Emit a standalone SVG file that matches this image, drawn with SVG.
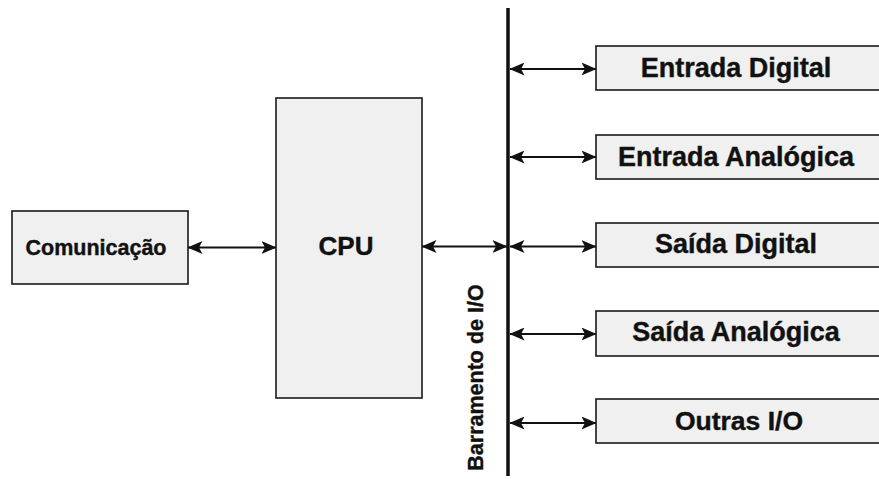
<svg xmlns="http://www.w3.org/2000/svg" width="879" height="479" viewBox="0 0 879 479">
  <defs>
    <style>
      .box { fill: #f0f0f0; stroke: #1a1a1a; stroke-width: 1.6; }
      .lbl { font-family: "Liberation Sans", Arial, sans-serif; font-weight: bold; fill: #111; text-anchor: middle; stroke: #111; stroke-width: 0.4; }
      .link { stroke: #111; stroke-width: 1.8; fill: none; marker-start: url(#head); marker-end: url(#head); }
      .bus { stroke: #111; stroke-width: 3.5; }
    </style>
    <marker id="head" viewBox="0 0 15 13" refX="14.5" refY="6.5" markerWidth="15" markerHeight="13" markerUnits="userSpaceOnUse" orient="auto-start-reverse">
      <path d="M0,0 L15,6.5 L0,13 L3.5,6.5 Z" fill="#111"/>
    </marker>
  </defs>
  <rect width="879" height="479" fill="#ffffff"/>

  <g id="comunicacao">
    <rect class="box" x="12" y="211" width="176" height="73"/>
    <text class="lbl" x="96" y="255" font-size="21.5">Comunicação</text>
  </g>

  <g id="cpu">
    <rect class="box" x="276" y="98" width="146" height="300"/>
    <text class="lbl" x="346" y="255" font-size="26">CPU</text>
  </g>

  <g id="barramento">
    <line class="bus" x1="508" y1="8" x2="508" y2="476"/>
    <text class="lbl" transform="translate(483,377.5) rotate(-90)" font-size="21.5">Barramento de I/O</text>
  </g>

  <g id="entrada-digital">
    <rect class="box" x="596" y="46" width="300" height="44"/>
    <text class="lbl" x="736" y="77" font-size="27">Entrada Digital</text>
  </g>

  <g id="entrada-analogica">
    <rect class="box" x="596" y="135" width="300" height="44"/>
    <text class="lbl" x="736" y="166" font-size="27">Entrada Analógica</text>
  </g>

  <g id="saida-digital">
    <rect class="box" x="596" y="223" width="300" height="44"/>
    <text class="lbl" x="736" y="253" font-size="27">Saída Digital</text>
  </g>

  <g id="saida-analogica">
    <rect class="box" x="596" y="311" width="300" height="45"/>
    <text class="lbl" x="736" y="341" font-size="27">Saída Analógica</text>
  </g>

  <g id="outras-io">
    <rect class="box" x="596" y="399" width="300" height="44"/>
    <text class="lbl" x="739" y="430" font-size="26.5">Outras I/O</text>
  </g>

  <g id="connectors">
    <line class="link" x1="188" y1="247.5" x2="276" y2="247.5"/>
    <line class="link" x1="422" y1="246.5" x2="507" y2="246.5"/>
    <line class="link" x1="510" y1="69" x2="596" y2="69"/>
    <line class="link" x1="510" y1="157" x2="596" y2="157"/>
    <line class="link" x1="510" y1="246.5" x2="596" y2="246.5"/>
    <line class="link" x1="510" y1="334" x2="596" y2="334"/>
    <line class="link" x1="510" y1="423" x2="596" y2="423"/>
  </g>
</svg>
